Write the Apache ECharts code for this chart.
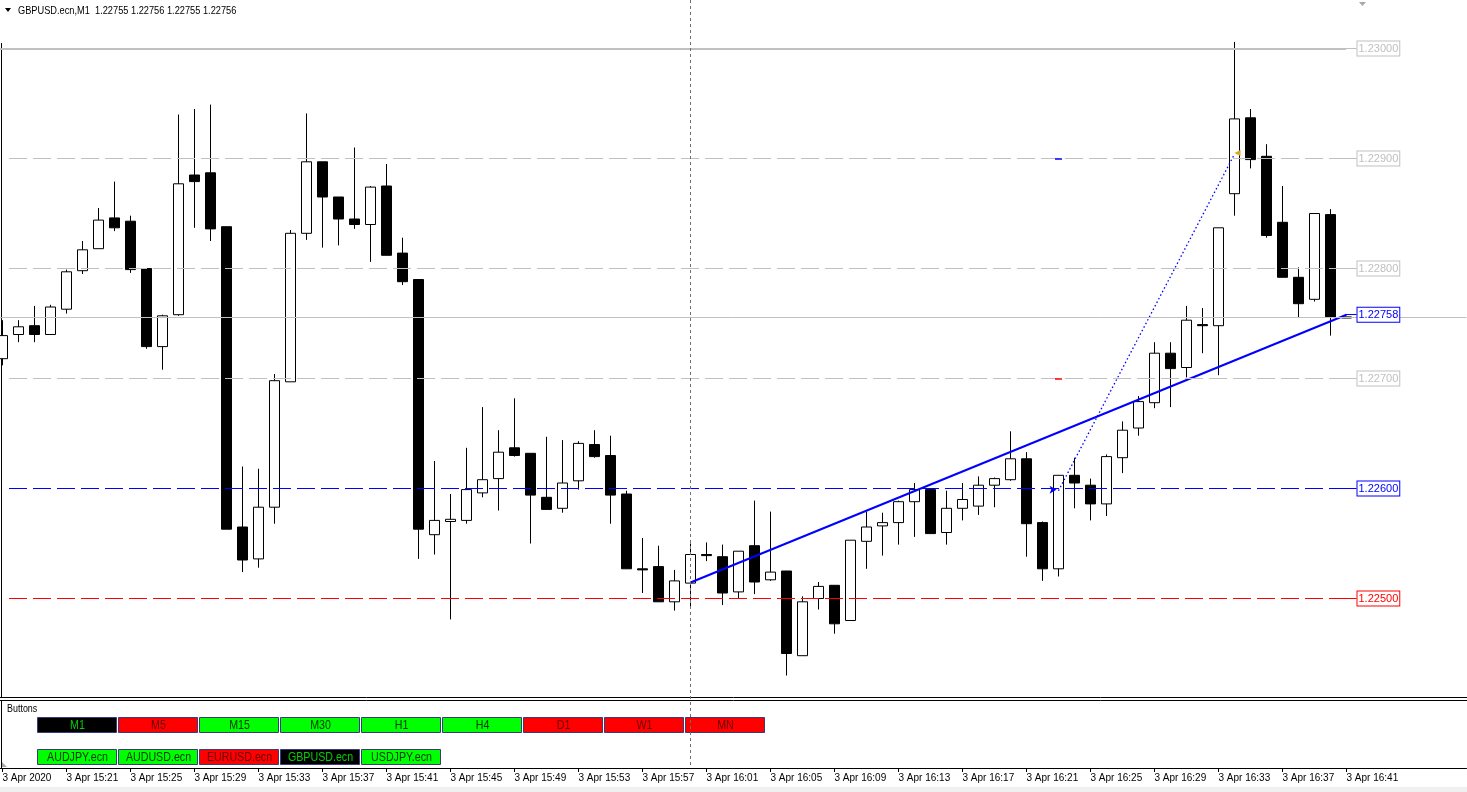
<!DOCTYPE html>
<html><head><meta charset="utf-8">
<script src="https://cdn.jsdelivr.net/npm/echarts@6.0.0/dist/echarts.min.js"></script>
<style>html,body{margin:0;padding:0;background:#fff;overflow:hidden}#c{width:1467px;height:792px;}</style>
</head><body><div id="c"></div>
<script>
// ---- data ----
const times = ['15:17','15:18','15:19','15:20','15:21','15:22','15:23','15:24','15:25','15:26','15:27','15:28','15:29','15:30','15:31','15:32','15:33','15:34','15:35','15:36','15:37','15:38','15:39','15:40','15:41','15:42','15:43','15:44','15:45','15:46','15:47','15:48','15:49','15:50','15:51','15:52','15:53','15:54','15:55','15:56','15:57','15:58','15:59','16:00','16:01','16:02','16:03','16:04','16:05','16:06','16:07','16:08','16:09','16:10','16:11','16:12','16:13','16:14','16:15','16:16','16:17','16:18','16:19','16:20','16:21','16:22','16:23','16:24','16:25','16:26','16:27','16:28','16:29','16:30','16:31','16:32','16:33','16:34','16:35','16:36','16:37','16:38','16:39','16:40','16:41'];
const opens = [1.22718,1.22740,1.22748,1.22740,1.22763,1.22798,1.22818,1.22846,1.22843,1.22800,1.22729,1.22758,1.22885,1.22887,1.22838,1.22565,1.22536,1.22583,1.22697,1.22832,1.22897,1.22865,1.22845,1.22840,1.22875,1.22814,1.22790,1.22558,1.22570,1.22571,1.22596,1.22609,1.22637,1.22632,1.22592,1.22582,1.22607,1.22640,1.22630,1.22595,1.22527,1.22529,1.22497,1.22514,1.22540,1.22538,1.22506,1.22548,1.22517,1.22525,1.22448,1.22500,1.22512,1.22480,1.22552,1.22566,1.22569,1.22588,1.22599,1.22560,1.22582,1.22584,1.22603,1.22608,1.22627,1.22569,1.22527,1.22612,1.22603,1.22586,1.22628,1.22655,1.22678,1.22723,1.22710,1.22749,1.22748,1.22868,1.22937,1.22902,1.22842,1.22792,1.22772,1.22849,1.22755];
const closes = [1.22739,1.22747,1.22740,1.22765,1.22797,1.22817,1.22844,1.22837,1.22799,1.22729,1.22757,1.22877,1.22879,1.22836,1.22563,1.22535,1.22583,1.22698,1.22832,1.22897,1.22865,1.22845,1.22840,1.22874,1.22812,1.22788,1.22563,1.22571,1.22572,1.22599,1.22608,1.22633,1.22630,1.22594,1.22581,1.22605,1.22641,1.22629,1.22594,1.22527,1.22526,1.22497,1.22516,1.22540,1.22539,1.22505,1.22543,1.22515,1.22524,1.22450,1.22497,1.22511,1.22477,1.22553,1.22565,1.22569,1.22588,1.22599,1.22559,1.22582,1.22590,1.22603,1.22609,1.22627,1.22568,1.22527,1.22612,1.22605,1.22586,1.22629,1.22653,1.22679,1.22723,1.22709,1.22753,1.22748,1.22837,1.22936,1.22899,1.22830,1.22792,1.22768,1.22850,1.22756,1.22756];
const lows = [1.22712,1.22733,1.22733,1.22740,1.22759,1.22795,1.22818,1.22834,1.22796,1.22727,1.22708,1.22757,1.22837,1.22825,1.22563,1.22524,1.22528,1.22568,1.22697,1.22826,1.22819,1.22821,1.22836,1.22806,1.22812,1.22785,1.22536,1.22540,1.22481,1.22568,1.22592,1.22580,1.22629,1.22550,1.22581,1.22578,1.22599,1.22628,1.22568,1.22527,1.22505,1.22497,1.22489,1.22491,1.22534,1.22494,1.22500,1.22504,1.22516,1.22430,1.22448,1.22490,1.22468,1.22480,1.22527,1.22539,1.22549,1.22556,1.22559,1.22549,1.22571,1.22576,1.22583,1.22607,1.22538,1.22516,1.22520,1.22582,1.22571,1.22575,1.22614,1.22648,1.22673,1.22674,1.22701,1.22723,1.22703,1.22848,1.22891,1.22828,1.22792,1.22755,1.22770,1.22739,1.22755];
const highs = [1.22753,1.22753,1.22766,1.22767,1.22799,1.22825,1.22855,1.22879,1.22848,1.22800,1.22758,1.22940,1.22945,1.22949,1.22838,1.22620,1.22618,1.22704,1.22835,1.22941,1.22897,1.22865,1.22910,1.22875,1.22895,1.22828,1.22790,1.22625,1.22595,1.22637,1.22674,1.22653,1.22682,1.22632,1.22647,1.22644,1.22643,1.22653,1.22648,1.22598,1.22555,1.22548,1.22526,1.22550,1.22551,1.22549,1.22543,1.22589,1.22579,1.22525,1.22502,1.22515,1.22512,1.22553,1.22579,1.22578,1.22589,1.22605,1.22599,1.22598,1.22605,1.22611,1.22610,1.22652,1.22633,1.22570,1.22612,1.22628,1.22609,1.22631,1.22661,1.22684,1.22733,1.22733,1.22766,1.22764,1.22837,1.23006,1.22945,1.22913,1.22875,1.22801,1.22850,1.22854,1.22756];
const futureSlots = 7;

const levelPrices = [1.23000, 1.22900, 1.22800, 1.22700, 1.22600, 1.22500];
const levelLabels = ['1.23000','1.22900','1.22800','1.22700','1.22600','1.22500'];
const levelKinds  = ['solid','dash','dash','dash','dash','dash'];
const levelColors = ['#c0c0c0','#c0c0c0','#c0c0c0','#c0c0c0','#0000ff','#ff0000'];
const bidPrice = 1.22756;
const trendBars = [43, 84];
const trendPrices = [1.225145, 1.22758];
const trendLabel = '1.22758';
const dotBars = [66, 77];
const dotPrices = [1.22598, 1.22904];
const vLineBar = 43;
const markBar = 66;
const markPrices = [1.22900, 1.22700];
const markColors = ['#0000ff', '#ff0000'];

const titleText = 'GBPUSD.ecn,M1  1.22755 1.22756 1.22755 1.22756';
const tfNames = ['M1','M5','M15','M30','H1','H4','D1','W1','MN'];
const tfStates = ['on','red','green','green','green','green','red','red','red'];
const symNames = ['AUDJPY.ecn','AUDUSD.ecn','EURUSD.ecn','GBPUSD.ecn','USDJPY.ecn'];
const symStates = ['green','green','red','on','green'];

// ---- layout helpers ----
const REG = "'Liberation Sans',Arial,sans-serif";
const BAR = 16, X0 = 2.5;
const px2v = x => (x - X0) / BAR;   // pixel -> bar position on the hidden value axis
const cats = times.concat(new Array(futureSlots).fill(''));
const candles = times.map((t, i) => [opens[i], closes[i], lows[i], highs[i]]);

function labelStyle(txt, color) {
  return { show: true, position: 'end', distance: 1, formatter: txt, color: color,
    borderColor: color, borderWidth: 1, backgroundColor: '#fff',
    padding: [2, 1, 1, 1], fontFamily: REG, fontSize: 11, lineHeight: 11 };
}
const ml = [];
ml.push([{ coord: [-0.5, bidPrice], lineStyle: { color: '#c0c0c0', width: 1, type: 'solid' } },
         { coord: [cats.length - 0.5, bidPrice] }]);
levelPrices.forEach((p, i) => {
  const c = levelColors[i];
  if (levelKinds[i] === 'solid') {
    ml.push([{ coord: [-0.5, p], lineStyle: { color: c, width: 2, type: 'solid' } }, { coord: [px2v(1346), p] }]);
  } else {
    ml.push([{ coord: [px2v(9), p], lineStyle: { color: c, width: 1, type: [18, 6] } }, { coord: [px2v(1347), p] }]);
  }
  ml.push([{ coord: [px2v(1346), p], lineStyle: { color: c, width: 1, type: 'solid' }, label: labelStyle(levelLabels[i], c) },
           { coord: [px2v(1356.5), p] }]);
});
ml.push([{ coord: [px2v(1346), trendPrices[1]], lineStyle: { color: '#0000ff', width: 1, type: 'solid' }, label: labelStyle(trendLabel, '#0000ff') },
         { coord: [px2v(1356.5), trendPrices[1]] }]);
markPrices.forEach((p, i) => {
  ml.push([{ coord: [markBar - 0.22, p], lineStyle: { color: markColors[i], width: 1.5, type: 'solid' } }, { coord: [markBar + 0.22, p] }]);
});
ml.push([{ xAxis: vLineBar, y: 0, lineStyle: { color: '#707070', width: 1, type: [3, 3] } }, { xAxis: vLineBar, y: 768 }]);

// ---- graphics (window chrome + button panel) ----
const g = [];
g.push({ type: 'rect', shape: { x: 0, y: 787, width: 1467, height: 5 }, style: { fill: '#f0f0f0' }, silent: true });
g.push({ type: 'line', shape: { x1: 0, y1: 697.5, x2: 1467, y2: 697.5 }, style: { stroke: '#000', lineWidth: 1 }, silent: true });
g.push({ type: 'line', shape: { x1: 0, y1: 700.5, x2: 1467, y2: 700.5 }, style: { stroke: '#000', lineWidth: 1 }, silent: true });
g.push({ type: 'line', shape: { x1: 1.5, y1: 43, x2: 1.5, y2: 697 }, style: { stroke: '#000', lineWidth: 1 }, silent: true });
g.push({ type: 'line', shape: { x1: 1.5, y1: 700, x2: 1.5, y2: 768 }, style: { stroke: '#000', lineWidth: 1 }, silent: true });
g.push({ type: 'polygon', shape: { points: [[5, 8], [11, 8], [8, 12]] }, style: { fill: '#000' }, silent: true });
g.push({ type: 'text', x: 18, y: 11, scaleX: 0.84, style: { text: titleText, font: '11px ' + REG, fill: '#000', verticalAlign: 'middle' }, silent: true });
g.push({ type: 'polygon', shape: { points: [[1359, 2], [1366, 2], [1362.5, 6]] }, style: { fill: '#a8a8a8' }, silent: true });
g.push({ type: 'text', x: 7, y: 709, scaleX: 0.85, style: { text: 'Buttons', font: '10.5px ' + REG, fill: '#000', verticalAlign: 'middle' }, silent: true });
g.push({ type: 'polygon', shape: { points: [[2, 762], [2, 767], [7, 767]] }, style: { fill: '#a8a8a8' }, silent: true });
const btnStyle = { on: ['#000000', '#00d000'], green: ['#00ff00', '#003300'], red: ['#ff0000', '#660000'] };
function addButtons(names, states, y) {
  names.forEach((n, i) => {
    const x = 37.5 + 81 * i;
    const s = btnStyle[states[i]];
    g.push({ type: 'rect', shape: { x: x, y: y, width: 79, height: 15 }, style: { fill: s[0], stroke: '#3a3a80', lineWidth: 1 }, silent: true });
    g.push({ type: 'text', x: x + 40, y: y + 8, scaleX: 0.79, style: { text: n, font: '13.5px ' + REG, fill: s[1], align: 'center', verticalAlign: 'middle' }, silent: true });
  });
}
addButtons(tfNames, tfStates, 717.5);
addButtons(symNames, symStates, 749.5);

const showIdx = (idx, val) => idx % 4 === 0 && val !== '';

const option = {
  animation: false,
  backgroundColor: '#fff',
  grid: { left: X0 - BAR / 2, top: 0.5, width: BAR * cats.length, height: 697, show: false, containLabel: false, outerBoundsMode: 'none' },
  xAxis: [
    { type: 'category', data: cats, boundaryGap: true, position: 'bottom', offset: 70.5,
      axisLine: { show: true, lineStyle: { color: '#000', width: 1 } },
      axisTick: { show: true, alignWithLabel: true, interval: showIdx, length: 4, lineStyle: { color: '#000' } },
      axisLabel: { show: true, interval: showIdx, align: 'left', margin: 5, color: '#000', fontFamily: REG, fontSize: 10, hideOverlap: false,
        formatter: (val, idx) => idx === 0 ? '3 Apr 2020' : '3 Apr ' + val },
      splitLine: { show: false } },
    { type: 'value', min: -0.5, max: cats.length - 0.5, show: false, splitLine: { show: false } }
  ],
  yAxis: { type: 'value', min: 1.2241, max: 1.2241 + 697 / 110000, show: false, splitLine: { show: false } },
  graphic: g,
  series: [
    { type: 'candlestick', xAxisIndex: 0, data: candles, barWidth: 10, z: 3,
      itemStyle: { color: '#ffffff', color0: '#000000', borderColor: '#000000', borderColor0: '#000000', borderColorDoji: '#000000', borderWidth: 1 } },
    { type: 'line', xAxisIndex: 1, z: 4, silent: true, symbol: 'none',
      data: trendBars.map((b, i) => [b, trendPrices[i]]),
      lineStyle: { color: '#0000ff', width: 2 },
      markLine: { silent: true, symbol: ['none', 'none'], label: { show: false }, data: ml, animation: false } },
    { type: 'line', xAxisIndex: 1, z: 4, silent: true, showSymbol: true,
      data: [
        { value: [dotBars[0], dotPrices[0]], symbol: 'arrow', symbolSize: [6, 7], symbolRotate: -90, symbolOffset: [-2, -1], itemStyle: { color: '#0000ff' } },
        { value: [dotBars[1], dotPrices[1]], symbol: 'triangle', symbolSize: [6, 6], symbolRotate: 90, symbolOffset: [3, -1], itemStyle: { color: '#daa520' } }
      ],
      lineStyle: { color: '#0000ff', width: 1.3, type: [1.5, 2.5] } }
  ]
};
const chart = echarts.init(document.getElementById('c'), null, { renderer: 'canvas' });
chart.setOption(option);
</script>
</body></html>
